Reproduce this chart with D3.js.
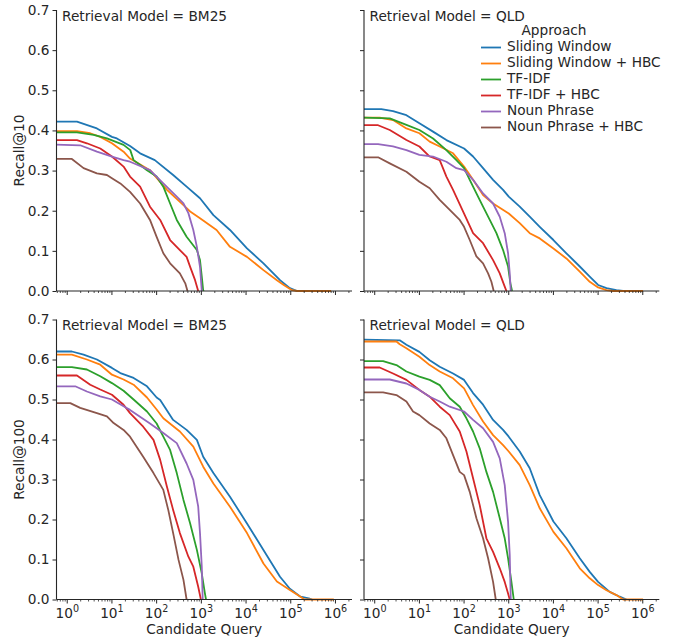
<!DOCTYPE html>
<html>
<head>
<meta charset="utf-8">
<script src="https://cdn.jsdelivr.net/npm/d3@7"></script>
<style>
  body { margin: 0; background: #fff; }
  svg { display: block; font-family: 'DejaVu Sans', sans-serif; }
</style>
</head>
<body>
<svg id="chart" width="683" height="640"></svg>
<script>
const approaches = ['Sliding Window', 'Sliding Window + HBC', 'TF-IDF', 'TF-IDF + HBC', 'Noun Phrase', 'Noun Phrase + HBC'];
const colours = ['#1f77b4', '#ff7f0e', '#2ca02c', '#d62728', '#9467bd', '#8c564b'];

const yTicks = [0, 0.1, 0.2, 0.3, 0.4, 0.5, 0.6, 0.7];
const xTickExponents = [0, 1, 2, 3, 4, 5, 6];

// [candidate query count, recall]
const bm25Recall10 = [
  [[0.5,.422],[1.65,.422],[4.61,.405],[10,.384],[12.9,.38],[25.4,.361],[42.7,.343],[91,.326],[234,.289],[468,.26],[933,.231],[1860,.189],[4370,.152],[10500,.106],[24500,.069],[57500,.027],[95500,.007],[139000,0],[200000,0]],
  [[0.5,.398],[1.65,.398],[3.27,.393],[5.48,.384],[10,.368],[18.2,.347],[25.4,.33],[71,.301],[170,.252],[398,.214],[562,.198],[933,.181],[2190,.152],[4370,.11],[10500,.085],[24500,.052],[49000,.027],[69700,.015],[107000,.002],[139000,0],[800000,0]],
  [[0.5,.395],[1.65,.395],[3.89,.389],[7.73,.38],[18.2,.364],[25.7,.351],[30.5,.326],[43,.314],[60.8,.301],[100,.285],[141,.26],[200,.218],[282,.177],[468,.135],[794,.102],[933,.077],[1023,.036],[1096,.003],[1127,0]],
  [[0.5,.376],[1.65,.376],[2.75,.368],[5.48,.355],[10,.335],[18.2,.31],[25.4,.285],[42.7,.26],[71,.21],[120,.177],[200,.127],[331,.102],[468,.085],[562,.06],[724,.027],[851,0]],
  [[0.5,.365],[1.95,.363],[4.61,.347],[10,.335],[18.2,.326],[25.4,.322],[71,.301],[141,.268],[282,.235],[398,.218],[513,.194],[661,.152],[794,.11],[933,.06],[1023,0]],
  [[0.5,.329],[1.27,.329],[2.32,.306],[4.61,.293],[7.73,.289],[10,.281],[15.4,.268],[25.4,.247],[42.7,.218],[71,.177],[100,.135],[141,.094],[200,.069],[331,.044],[437,.019],[490,0]]
];

const qldRecall10 = [
  [[0.5,.453],[1.41,.453],[2.57,.448],[5.12,.438],[10,.418],[20.2,.397],[40.2,.376],[100,.355],[159,.335],[266,.306],[446,.277],[747,.252],[1000,.235],[1760,.21],[2950,.185],[4940,.16],[10000,.127],[19500,.094],[38900,.061],[65000,.036],[100000,.015],[154000,.007],[257000,.002],[363000,0]],
  [[0.5,.432],[1.29,.432],[2.57,.426],[5.12,.405],[10,.393],[17,.372],[28.5,.36],[56.7,.343],[100,.31],[159,.277],[266,.239],[446,.218],[1000,.193],[1760,.169],[2950,.144],[4940,.131],[10000,.106],[19500,.081],[38900,.048],[65000,.023],[100000,.009],[154000,.002],[217000,0],[1016000,0]],
  [[0.5,.432],[2.17,.43],[5.12,.414],[10,.401],[20.2,.38],[40.2,.351],[67.3,.326],[100,.306],[134,.277],[189,.243],[266,.21],[376,.177],[530,.144],[747,.102],[966,.061],[1089,.019],[1188,0]],
  [[0.5,.413],[1.19,.413],[2.17,.401],[5.12,.376],[10,.36],[17,.335],[28.5,.326],[40.2,.285],[56.7,.252],[100,.193],[159,.144],[266,.119],[446,.077],[629,.044],[813,.011],[887,0]],
  [[0.5,.366],[1.19,.366],[2.57,.36],[5.12,.351],[10,.339],[20.2,.335],[40.2,.322],[67.3,.306],[100,.301],[159,.277],[266,.243],[446,.218],[629,.185],[813,.144],[966,.094],[1052,.044],[1109,0]],
  [[0.5,.333],[1.19,.333],[2.17,.318],[5.12,.297],[10,.272],[17,.256],[28.5,.227],[47.8,.202],[80,.177],[100,.16],[134,.127],[189,.086],[266,.069],[345,.044],[409,.023],[461,0]]
];

const bm25Recall100 = [
  [[0.5,.62],[1.27,.62],[2.32,.612],[4.61,.6],[10,.579],[15.4,.566],[30.5,.554],[60.8,.533],[100,.505],[120,.499],[234,.449],[468,.424],[794,.399],[1100,.357],[1860,.316],[4370,.257],[10500,.19],[24500,.124],[57500,.057],[95500,.027],[165000,.007],[253000,.003],[300000,0]],
  [[0.5,.612],[1.27,.612],[2.75,.6],[5.48,.587],[10,.562],[18.2,.55],[30.5,.537],[60.8,.505],[100,.475],[141,.453],[331,.42],[661,.382],[1100,.332],[1860,.29],[4370,.232],[10500,.166],[24500,.09],[49000,.045],[95500,.024],[165000,.007],[202000,0],[918000,0]],
  [[0.5,.581],[1.27,.581],[2.75,.575],[5.48,.558],[10,.541],[18.2,.522],[30.5,.5],[60.8,.47],[100,.44],[141,.407],[200,.374],[282,.316],[398,.249],[562,.19],[794,.124],[1020,.066],[1200,.016],[1271,0]],
  [[0.5,.56],[1.65,.56],[3.27,.537],[5.48,.525],[10,.512],[18.2,.487],[25.4,.466],[50,.432],[85,.399],[120,.349],[170,.282],[234,.224],[331,.166],[513,.107],[661,.082],[851,.032],[977,0]],
  [[0.5,.533],[1.51,.533],[2.75,.52],[5.48,.508],[10,.5],[18.2,.483],[25.4,.474],[71,.44],[141,.416],[282,.391],[468,.34],[661,.299],[851,.232],[933,.166],[1023,.082],[1072,0]],
  [[0.5,.491],[1.17,.491],[1.95,.479],[4.61,.466],[7.73,.458],[10.9,.441],[18.2,.424],[25.4,.407],[50,.357],[85,.316],[141,.274],[182,.224],[234,.166],[309,.099],[398,.049],[468,0]]
];

const qldRecall100 = [
  [[0.5,.65],[3.63,.648],[5.12,.637],[10,.619],[17,.598],[28.5,.582],[56.7,.565],[100,.549],[159,.516],[266,.487],[446,.449],[747,.424],[1000,.407],[1760,.37],[2950,.328],[4940,.261],[10000,.195],[19500,.153],[38900,.103],[65000,.069],[100000,.044],[182000,.019],[305000,.007],[431000,0]],
  [[0.5,.645],[3.06,.645],[3.63,.638],[5.12,.628],[10,.607],[17,.586],[28.5,.57],[56.7,.553],[100,.528],[159,.486],[266,.445],[446,.411],[747,.386],[1000,.37],[1760,.336],[2950,.286],[4940,.228],[10000,.169],[19500,.128],[38900,.078],[65000,.053],[100000,.036],[154000,.023],[257000,.011],[363000,0],[1016000,0]],
  [[0.5,.596],[1.54,.596],[3.06,.586],[5.12,.57],[10,.557],[17,.549],[28.5,.536],[47.8,.503],[80,.482],[113,.453],[159,.42],[224,.378],[316,.319],[446,.269],[629,.203],[813,.153],[966,.103],[1148,.044],[1295,0]],
  [[0.5,.58],[1.29,.58],[2.57,.565],[5.12,.549],[10,.524],[17,.507],[28.5,.482],[47.8,.461],[80,.42],[113,.37],[159,.303],[224,.236],[316,.153],[446,.119],[629,.078],[813,.044],[966,.015],[1052,0]],
  [[0.5,.55],[2.17,.55],[5.12,.54],[10,.524],[17,.507],[28.5,.495],[47.8,.482],[100,.47],[159,.449],[266,.428],[446,.394],[629,.353],[813,.286],[966,.194],[1052,.111],[1109,0]],
  [[0.5,.518],[1.54,.518],[3.06,.511],[5.12,.495],[7.21,.47],[10,.461],[17,.44],[28.5,.424],[40.2,.403],[56.7,.361],[80,.319],[100,.311],[134,.269],[189,.203],[266,.153],[345,.103],[446,.044],[512,0]]
];

const panels = [
  { title: 'Retrieval Model = BM25', series: bm25Recall10, col: 0, row: 0 },
  { title: 'Retrieval Model = QLD', series: qldRecall10, col: 1, row: 0 },
  { title: 'Retrieval Model = BM25', series: bm25Recall100, col: 0, row: 1 },
  { title: 'Retrieval Model = QLD', series: qldRecall100, col: 1, row: 1 },
];
const rowLabels = ['Recall@10', 'Recall@100'];

const INK = '#262626';
const FS = 13.7;
const COLS = [[56.5, 352], [364, 659.3]];
const ROWS = [[10, 291], [319.5, 599.5]];
const X_DOMAIN = [Math.pow(10, -0.24), Math.pow(10, 6.37)];

const svg = d3.select('#chart');
const defs = svg.append('defs');

const minorTicks = [];
for (let e = -1; e <= 6; e++)
  for (let k = 2; k <= 9; k++) {
    const v = k * Math.pow(10, e);
    if (v >= X_DOMAIN[0] && v <= X_DOMAIN[1]) minorTicks.push(v);
  }

panels.forEach((p, i) => {
  const [x0, x1] = COLS[p.col];
  const [y0, y1] = ROWS[p.row];
  const x = d3.scaleLog().domain(X_DOMAIN).range([x0, x1]);
  const y = d3.scaleLinear().domain([0, 0.7]).range([y1, y0]);
  const g = svg.append('g');

  defs.append('clipPath').attr('id', `clip-${i}`)
    .append('rect').attr('x', x0).attr('y', y0 - 2).attr('width', x1 - x0).attr('height', y1 - y0 + 4);

  const line = d3.line().x(d => x(d[0])).y(d => y(d[1]));
  g.append('g').attr('clip-path', `url(#clip-${i})`)
    .selectAll('path').data(p.series).join('path')
    .attr('d', line)
    .attr('fill', 'none')
    .attr('stroke', (d, j) => colours[j])
    .attr('stroke-width', 1.8)
    .attr('stroke-linejoin', 'round');

  // y axis
  const yAxis = g.append('g').attr('transform', `translate(${x0},0)`)
    .call(d3.axisLeft(y).tickValues(yTicks).tickSize(4).tickPadding(3)
      .tickFormat(p.col === 0 ? d3.format('.1f') : () => ''));
  yAxis.select('.domain').attr('stroke', INK).attr('stroke-width', 1.1).attr('d', `M0,${y0}V${y1}`);
  yAxis.selectAll('.tick line').attr('stroke', INK).attr('stroke-width', 1);
  yAxis.selectAll('.tick text').attr('fill', INK).attr('font-size', FS)
    .attr('font-family', 'DejaVu Sans, sans-serif');

  // x axis
  const xAxis = g.append('g').attr('transform', `translate(0,${y1})`);
  xAxis.append('path').attr('d', `M${x0},0H${x1}`).attr('stroke', INK).attr('stroke-width', 1.1);
  xAxis.selectAll('line.minor').data(minorTicks).join('line').attr('class', 'minor')
    .attr('x1', d => x(d)).attr('x2', d => x(d)).attr('y1', 0).attr('y2', 2)
    .attr('stroke', INK).attr('stroke-width', 0.8);
  xAxis.selectAll('line.major').data(xTickExponents).join('line').attr('class', 'major')
    .attr('x1', d => x(Math.pow(10, d))).attr('x2', d => x(Math.pow(10, d))).attr('y1', 0).attr('y2', 4)
    .attr('stroke', INK).attr('stroke-width', 1);
  if (p.row === 1) {
    const lbl = xAxis.selectAll('text.xt').data(xTickExponents).join('text').attr('class', 'xt')
      .attr('x', d => x(Math.pow(10, d))).attr('y', 18.5)
      .attr('text-anchor', 'middle').attr('fill', INK).attr('font-size', FS);
    lbl.append('tspan').text('10');
    lbl.append('tspan').attr('dy', -6).attr('font-size', 9.6).text(d => d);
    g.append('text').attr('x', (x0 + x1) / 2).attr('y', 633.5)
      .attr('text-anchor', 'middle').attr('fill', INK).attr('font-size', FS)
      .text('Candidate Query');
  }

  g.append('text').attr('x', x0 + 5.5).attr('y', y0 + 10.5)
    .attr('fill', INK).attr('font-size', FS).text(p.title);

  if (p.col === 0) {
    g.append('text')
      .attr('transform', `translate(24,${(y0 + y1) / 2}) rotate(-90)`)
      .attr('text-anchor', 'middle').attr('fill', INK).attr('font-size', FS)
      .text(rowLabels[p.row]);
  }
});

// legend
const legend = svg.append('g');
legend.append('text').attr('x', 554).attr('y', 35).attr('text-anchor', 'middle')
  .attr('fill', INK).attr('font-size', FS).text('Approach');
const item = legend.selectAll('g.item').data(approaches).join('g').attr('class', 'item')
  .attr('transform', (d, i) => `translate(0,${50.7 + i * 16})`);
item.append('line').attr('x1', 481).attr('x2', 501).attr('y1', -3.2).attr('y2', -3.2)
  .attr('stroke', (d, i) => colours[i]).attr('stroke-width', 1.8);
item.append('text').attr('x', 507).attr('y', 0).attr('fill', INK).attr('font-size', FS).text(d => d);
</script>
</body>
</html>
